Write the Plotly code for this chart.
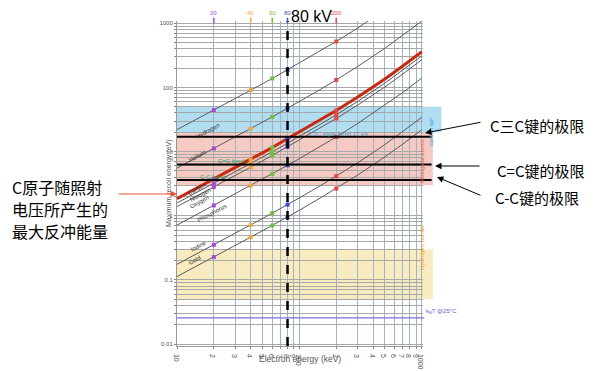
import math
import plotly.graph_objects as go

# ---------------- data ----------------
energy_keV = [10, 15, 20, 30, 40, 50, 60, 70, 80, 100, 150, 200, 300, 500, 700, 1000]

hydrogen   = [22.0, 33.1, 44.4, 67.2, 90.5, 114, 138, 163, 188, 239, 374, 521, 845, 1620, 2570, 4310]
helium     = [5.54, 8.34, 11.2, 16.9, 22.8, 28.8, 34.8, 41.0, 47.3, 60.2, 94.3, 131, 213, 408, 647, 1085]
carbon     = [1.85, 2.78, 3.73, 5.64, 7.59, 9.58, 11.6, 13.7, 15.8, 20.1, 31.4, 43.7, 70.9, 136, 216, 361]
nitrogen   = [1.58, 2.38, 3.19, 4.84, 6.51, 8.22, 9.95, 11.7, 13.5, 17.2, 27.0, 37.5, 60.8, 117, 185, 310]
oxygen     = [1.39, 2.09, 2.80, 4.24, 5.70, 7.19, 8.71, 10.3, 11.8, 15.1, 23.6, 32.8, 53.2, 102, 162, 271]
phosphorus = [0.715, 1.08, 1.45, 2.19, 2.95, 3.72, 4.50, 5.30, 6.11, 7.78, 12.2, 16.9, 27.5, 52.8, 83.6, 140]
iodine     = [0.175, 0.263, 0.353, 0.534, 0.719, 0.907, 1.10, 1.29, 1.49, 1.90, 2.98, 4.14, 6.71, 12.9, 20.4, 34.2]
gold       = [0.113, 0.170, 0.227, 0.344, 0.463, 0.584, 0.708, 0.833, 0.961, 1.22, 1.92, 2.66, 4.32, 8.30, 13.1, 22.0]

series_names = ["Hydrogen", "Helium", "Carbon", "Nitrogen", "Oxygen", "Phosphorus", "Iodine", "Gold"]
series_values = [hydrogen, helium, carbon, nitrogen, oxygen, phosphorus, iodine, gold]

marker_energies = [20, 40, 60, 80, 200]
marker_colors = ["#a64ad8", "#f2a33a", "#6cc23a", "#3a4fc8", "#e8453c"]

selected_kV = 80
band_carbon_sp2 = [20, 50]
band_bio = [3, 20]
band_hbond = [0.05, 0.3]
bond_limits = [17, 6.3, 3.6]
kT_25C = 0.0257

x_tick_vals = [10, 20, 30, 40, 50, 60, 70, 80, 90, 100, 200, 300, 400, 500, 600, 700, 800, 900, 1000]
x_tick_text = ["10", "2", "3", "4", "5", "6", "7", "8", "9", "100", "2", "3", "4", "5", "6", "7", "8", "9", "1000"]
y_decades = [0.01, 0.1, 1, 10, 100, 1000]
y_decade_text = ["0.01", "0.1", "1", "10", "100", "1000"]

# ---------------- layout geometry (page pixels) ----------------
W, H = 600, 371
OFF = 8                      # page offset of the plot div
P_L, P_R, P_T, P_B = 177, 423, 21, 346   # plot box on the page
L, T = P_L - OFF, P_T - OFF
R, B = W - (P_R - OFF), H - (P_B - OFF)
PW, PH = P_R - P_L, P_B - P_T


def px2paper(px, py):
    return (px - P_L) / PW, (P_B - py) / PH


FONT = "Liberation Sans, Arial, sans-serif"
CJK = "Noto Sans CJK SC, sans-serif"

fig = go.Figure()

for name, vals in zip(series_names, series_values):
    fig.add_trace(go.Scatter(x=energy_keV, y=vals, mode="lines",
                             line=dict(color="#5a5a5a", width=1), name=name,
                             showlegend=False, hoverinfo="skip"))

fig.add_trace(go.Scatter(x=energy_keV, y=carbon, mode="lines",
                         line=dict(color="#c8290f", width=3), showlegend=False,
                         hoverinfo="skip"))

for e, c in zip(marker_energies, marker_colors):
    i = energy_keV.index(e)
    ys = [v[i] for v in series_values]
    fig.add_trace(go.Scatter(x=[e] * len(ys), y=ys, mode="markers",
                             marker=dict(color=c, size=4, symbol="square"),
                             showlegend=False, hoverinfo="skip"))

fig.add_trace(go.Scatter(x=[selected_kV, selected_kV], y=[0.0093, 1090], mode="lines",
                         line=dict(color="black", width=2.5, dash="dash"),
                         showlegend=False, hoverinfo="skip"))

shapes = []
for (lo, hi), col, x1 in [(band_carbon_sp2, "rgba(150,210,235,0.75)", 1.075),
                          (band_bio, "rgba(240,180,168,0.7)", 1.04),
                          (band_hbond, "rgba(245,228,170,0.75)", 1.04)]:
    shapes.append(dict(type="rect", xref="x domain", yref="y", x0=0, x1=x1,
                       y0=lo, y1=hi, fillcolor=col, line=dict(width=0), layer="below"))
shapes.append(dict(type="line", xref="x domain", yref="y", x0=0, x1=1.005,
                   y0=kT_25C, y1=kT_25C, line=dict(color="#7b6fd6", width=1.2)))
for b in bond_limits:
    shapes.append(dict(type="line", xref="x domain", yref="y", x0=0, x1=1.035,
                       y0=b, y1=b, line=dict(color="black", width=2)))
for e, c in zip(marker_energies, marker_colors):
    shapes.append(dict(type="line", xref="x", yref="paper", x0=e, x1=e,
                       y0=0.992, y1=1.01, line=dict(color=c, width=1.5)))

annotations = []
for e, c in zip(marker_energies, marker_colors):
    annotations.append(dict(x=math.log10(e), xref="x", y=1.0, yref="paper", yanchor="bottom",
                            yshift=3, text=str(e), showarrow=False,
                            font=dict(size=6, color=c, family=FONT)))

line_labels = [("Hydrogen", 192, 120), ("Helium", 185, 156), ("Carbon", 184, 189),
               ("Nitrogen", 186, 195), ("Oxygen", 186, 202), ("Phosphorus", 194, 213),
               ("Iodine", 187, 255), ("Gold", 185, 268)]
for txt, px, py in line_labels:
    xp, yp = px2paper(px, py)
    annotations.append(dict(x=xp, y=yp, xref="paper", yref="paper", text=txt, showarrow=False,
                            textangle=-28, font=dict(size=6, color="#333", family=FONT)))
for txt, px, py in [("C=C bond", 216, 161), ("C-C bond", 198, 177)]:
    xp, yp = px2paper(px, py)
    annotations.append(dict(x=xp, y=yp, xref="paper", yref="paper", text=txt, showarrow=False,
                            font=dict(size=6, color="#2e9e58", family=FONT)))
xp, yp = px2paper(370, 134)
annotations.append(dict(x=xp, y=yp, xref="paper", yref="paper", text="C≡C triple bond 17 eV",
                        showarrow=False, font=dict(size=6, color="#2a9ad8", family=FONT)))

for txt, px, py, col in [("carbon sp²", 436, 116, "#2a9ad8"),
                         ("Biological atoms", 427, 161, "#e05a48"),
                         ("Hydrogen bonds", 427, 272, "#f0a030")]:
    xp, yp = px2paper(px, py)
    annotations.append(dict(x=xp, y=yp, xref="paper", yref="paper", text=txt, showarrow=False,
                            textangle=-90, font=dict(size=6, color=col, family=FONT)))
xp, yp = px2paper(424, 317)
annotations.append(dict(x=xp, y=yp, xref="paper", yref="paper", text="k<sub>B</sub>T @25°C",
                        xanchor="left", showarrow=False,
                        font=dict(size=6, color="#6b5fd0", family=FONT)))

# axis titles as annotations
xp, yp = px2paper(300, 366)
annotations.append(dict(x=xp, y=yp, xref="paper", yref="paper", text="Electron energy (keV)",
                        showarrow=False, font=dict(size=8.5, color="#555", family=FONT)))
xp, yp = px2paper(163, 183)
annotations.append(dict(x=xp, y=yp, xref="paper", yref="paper", text="Maximum recoil energy (eV)",
                        textangle=-90, showarrow=False, font=dict(size=7, color="#555", family=FONT)))

xp, yp = px2paper(289, 16)
annotations.append(dict(x=xp, y=yp, xref="paper", yref="paper", text="80 kV", xanchor="left",
                        yanchor="middle", showarrow=False,
                        font=dict(size=16, color="black", family=FONT)))

for txt, tx, ty, hx, hy, sx, sy in [("C三C键的极限", 537, 126, 425, 133, 482, 122),
                                     ("C=C键的极限", 540, 170, 435, 166, 481, 166),
                                     ("C-C键的极限", 537, 197, 437, 177, 482, 196)]:
    xp, yp = px2paper(tx, ty)
    annotations.append(dict(x=xp, y=yp, xref="paper", yref="paper", text=txt, showarrow=False,
                            xanchor="center", yanchor="middle",
                            font=dict(size=15, color="black", family=CJK)))
    hxp, hyp = px2paper(hx, hy)
    annotations.append(dict(x=hxp, y=hyp, xref="paper", yref="paper", text=" ", showarrow=True,
                            ax=sx - hx, ay=sy - hy, arrowhead=2, arrowsize=1.3, arrowwidth=1,
                            arrowcolor="black", font=dict(size=1)))

# left annotation, one line per annotation
for line_txt, ly in [("C原子随照射", 187), ("电压所产生的", 209), ("最大反冲能量", 231)]:
    xp, yp = px2paper(10, ly)
    annotations.append(dict(x=xp, y=yp, xref="paper", yref="paper", text=line_txt,
                            xanchor="left", yanchor="middle", showarrow=False,
                            font=dict(size=16, color="black", family=CJK)))
hxp, hyp = px2paper(177, 194)
annotations.append(dict(x=hxp, y=hyp, xref="paper", yref="paper", text=" ", showarrow=True,
                        ax=117 - 177, ay=0, arrowhead=2, arrowsize=1.3, arrowwidth=1,
                        arrowcolor="#e8502a", font=dict(size=1)))

y_grid_vals, y_grid_text = [], []
for d, dt in zip(y_decades, y_decade_text):
    for m in range(1, 10):
        v = d * m
        if v > 1000.0001:
            break
        y_grid_vals.append(v)
        y_grid_text.append(dt if m == 1 else "")

fig.update_layout(
    width=W, height=H,
    margin=dict(l=L, r=R, t=T, b=B, autoexpand=False),
    paper_bgcolor="white", plot_bgcolor="white",
    showlegend=False,
    shapes=shapes, annotations=annotations,
    font=dict(family=FONT),
    xaxis=dict(type="log", range=[1, 3.01], tickvals=x_tick_vals, ticktext=x_tick_text,
               showgrid=True, gridcolor="#9fb5c6", gridwidth=1, automargin=False,
               tickfont=dict(size=7, color="#555"), ticks="outside", ticklen=2,
               tickcolor="#888", showline=True, linecolor="#999", linewidth=1,
               zeroline=False),
    yaxis=dict(type="log", range=[-2.03, 3.036], tickvals=y_grid_vals, ticktext=y_grid_text,
               showgrid=True, gridcolor="#a8a8a8", gridwidth=1, automargin=False,
               tickfont=dict(size=6, color="#555"), ticks="outside", ticklen=2,
               tickcolor="#888", showline=True, linecolor="#999", linewidth=1,
               zeroline=False),
)

fig.write_html("out.html")
